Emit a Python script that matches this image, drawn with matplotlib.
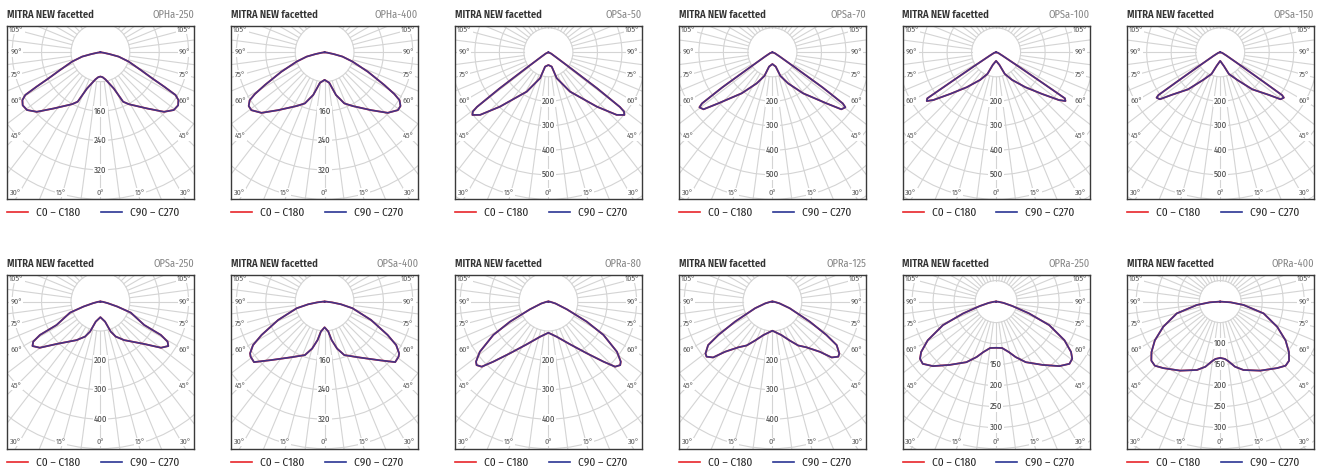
import matplotlib
matplotlib.use('Agg')
import numpy as np
import matplotlib.pyplot as plt
from matplotlib.patches import Circle
from matplotlib.lines import Line2D

plt.rcParams['font.family'] = ['Fira Sans Condensed', 'DejaVu Sans']

# ---------------- data (cd/klm vs gamma in degrees; C0-C180 and C90-C270 coincide) ----
product = "MITRA NEW facetted"
models = ["OPHa-250", "OPHa-400", "OPSa-50", "OPSa-70", "OPSa-100", "OPSa-150",
          "OPSa-250", "OPSa-400", "OPRa-80", "OPRa-125", "OPRa-250", "OPRa-400"]
ring_step = [80, 80, 100, 100, 100, 100, 100, 80, 100, 100, 50, 50]
ring_count = [5, 5, 6, 6, 6, 6, 5, 5, 5, 5, 7, 7]
ring_labels = [[160, 240, 320], [160, 240, 320], [200, 300, 400, 500], [200, 300, 400, 500],
               [200, 300, 400, 500], [200, 300, 400, 500], [200, 300, 400], [160, 240, 320],
               [200, 300, 400], [200, 300, 400], [150, 200, 250, 300], [100, 150, 200, 250, 300]]

gamma_opha250 = [0, 5, 10.5, 20.3, 24.7, 28.7, 39.8, 46.9, 51.8, 55.7, 58.5, 60.4, 61.7, 63.3, 66.3, 71.8, 76.7, 79, 82, 90]
cd_opha250 = [66, 68, 75, 105, 148, 161, 199, 237, 254, 256, 249, 235, 197, 158, 120, 81, 51, 25, 8, 0]

gamma_opha400 = [0, 8.7, 14.9, 21.1, 27.6, 38.8, 46.2, 51.7, 54.7, 57.4, 59.1, 61.3, 65.8, 71.6, 76.5, 79, 82, 90]
cd_opha400 = [75, 84, 120, 149, 165, 202, 238, 254, 253, 242, 221, 185, 129, 80, 50, 25, 8, 0]

gamma_opsa50 = [0, 13, 17.8, 28.8, 41.7, 47.5, 50.5, 51.9, 52.6, 53.5, 54.5, 57, 65, 90]
cd_opsa50 = [52, 60, 111, 183, 297, 378, 402, 392, 367, 248, 110, 40, 12, 0]

gamma_opsa70 = [0, 13.1, 18.7, 26.8, 36.8, 46.6, 50.4, 53, 54, 55, 56, 60, 70, 90]
cd_opsa70 = [48, 60, 102, 142, 209, 303, 365, 373, 355, 250, 120, 35, 10, 0]

gamma_opsa100 = [0, 14.7, 21.8, 30, 40, 47.8, 52.7, 54.9, 56.2, 56.6, 57.7, 62, 75, 90]
cd_opsa100 = [35, 53, 95, 130, 186, 253, 321, 346, 338, 226, 110, 30, 8, 0]

gamma_opsa150 = [0, 15, 21.8, 31.6, 40.9, 48.8, 52.1, 54.5, 55.3, 55.8, 57, 62, 75, 90]
cd_opsa150 = [35, 58, 95, 132, 200, 264, 312, 319, 307, 209, 107, 30, 8, 0]

gamma_opsa250 = [0, 13.1, 19, 23.7, 31.7, 45.9, 52.7, 56.8, 59.2, 61.1, 61.9, 70, 73.6, 78, 85, 90]
cd_opsa250 = [53, 70, 108, 130, 154, 207, 259, 276, 266, 235, 169, 110, 60, 25, 8, 0]

gamma_opsa400 = [0, 7, 10.3, 14.8, 20.2, 30.7, 42.3, 49.4, 53.3, 55.2, 58.7, 62.1, 68.4, 76.6, 80.7, 84, 88, 90]
cd_opsa400 = [70, 82, 106, 132, 155, 176, 215, 253, 251, 247, 228, 194, 136, 78, 45, 20, 5, 0]

gamma_opra80 = [0, 13.4, 26.9, 36.6, 42.5, 45.7, 48.5, 50.3, 53.8, 58.8, 62.4, 67.3, 75, 85, 90]
cd_opra80 = [106, 123, 163, 219, 277, 317, 326, 320, 289, 219, 147, 68, 25, 6, 0]

gamma_opra125 = [0, 15.1, 24, 30.4, 36.7, 43.4, 46.7, 50.1, 52.2, 55.9, 58.3, 61.8, 69, 76, 85, 90]
cd_opra125 = [99, 118, 145, 173, 194, 235, 277, 292, 288, 264, 216, 144, 63, 25, 6, 0]

gamma_opra250 = [0, 7.4, 14.2, 19.4, 26.1, 36.3, 44.4, 49.7, 53.1, 56.1, 60.5, 66.1, 70.3, 74.8, 80, 86, 90]
cd_opra250 = [110, 111.5, 124, 140, 160.6, 187, 215, 229, 226.6, 215, 187, 138.5, 83, 40, 18, 5, 0]

gamma_opra400 = [0, 4.7, 7.7, 12.8, 18.8, 30.1, 40.6, 45.6, 49.4, 53.7, 59.3, 66.1, 74.8, 81.8, 86, 90]
cd_opra400 = [134, 137, 143, 159, 172, 190, 208.5, 218, 216, 203, 181, 148.5, 107, 56, 25, 0]

gammas = [gamma_opha250, gamma_opha400, gamma_opsa50, gamma_opsa70, gamma_opsa100, gamma_opsa150,
          gamma_opsa250, gamma_opsa400, gamma_opra80, gamma_opra125, gamma_opra250, gamma_opra400]
cds = [cd_opha250, cd_opha400, cd_opsa50, cd_opsa70, cd_opsa100, cd_opsa150,
       cd_opsa250, cd_opsa400, cd_opra80, cd_opra125, cd_opra250, cd_opra400]

series_labels = ["C0 – C180", "C90 – C270"]
side_angles = [105, 90, 75, 60, 45]
bottom_angles = [30, 15, 0, 15, 30]

# ---------------- layout (pixels) ----------------
W, H = 1327, 474
fig = plt.figure(figsize=(W / 100, H / 100), dpi=100)

box_w = 187.2
above = 26.6       # px from centre to box top
below = 147.0      # px from centre to box bottom
col_left = [6.8, 231.0, 454.8, 678.8, 902.5, 1126.6]
row_top = [25.7, 275.0]

RED = '#e8252a'
BLUE = '#2a3593'
GRID = '#d4d4d4'
FS = 7.5
LFS = 8.2

for i in range(12):
    r, c = divmod(i, 6)
    left = col_left[c]
    top = row_top[r]
    h = above + below
    ax = fig.add_axes([left / W, 1 - (top + h) / H, box_w / W, h / H])
    R = ring_step[i] * ring_count[i]
    u = R / below            # data units per pixel
    half = box_w / 2 * u
    ax.set_xlim(-half, half)
    ax.set_ylim(-R, above * u)
    ax.set_xticks([])
    ax.set_yticks([])
    for s in ax.spines.values():
        s.set_color('#3a3a3a')
        s.set_linewidth(1.0)

    step = ring_step[i]
    for k in range(1, ring_count[i] + 4):
        ax.add_patch(Circle((0, 0), k * step, fill=False, ec=GRID, lw=0.8, zorder=1))
    for a in np.arange(0, 360, 7.5):
        t = np.radians(a)
        ax.plot([step * np.sin(t), 3 * R * np.sin(t)], [-step * np.cos(t), -3 * R * np.cos(t)],
                color=GRID, lw=0.8, zorder=1)

    g = np.radians(np.array(gammas[i], dtype=float))
    I = np.array(cds[i], dtype=float)
    xs = np.concatenate([-(I * np.sin(g))[::-1], (I * np.sin(g))[1:]])
    ys = np.concatenate([-(I * np.cos(g))[::-1], -(I * np.cos(g))[1:]])
    ax.plot(xs, ys, color=RED, lw=1.3, zorder=3, solid_joinstyle='round')
    ax.plot(xs, ys, color=BLUE, lw=1.2, alpha=0.87, zorder=4, solid_joinstyle='round')

    for v in ring_labels[i]:
        ax.text(0, -v, str(v), ha='center', va='center', fontsize=6.3, color='#444444', zorder=2,
                bbox=dict(boxstyle='square,pad=0.12', fc='white', ec='none'))
    xoff = (box_w / 2 - 9.5) * u
    for a in side_angles:
        y = -xoff / np.tan(np.radians(a)) if a != 90 else 0.0
        for sgn in (-1, 1):
            ax.text(sgn * xoff, y, f"{a}°", ha='center', va='center', fontsize=5.8,
                    color='#555555', zorder=2,
                    bbox=dict(boxstyle='square,pad=0.1', fc='white', ec='none'))
    yb = -(below - 6.6) * u
    for j, a in enumerate(bottom_angles):
        sgn = -1 if j < 2 else 1
        x = sgn * below * u * np.tan(np.radians(a))
        ax.text(x, yb, f"{a}°", ha='center', va='center', fontsize=5.8, color='#555555', zorder=2,
                bbox=dict(boxstyle='square,pad=0.1', fc='white', ec='none'))

    ax.text(0, 1 + 8.0 / h, product, transform=ax.transAxes, ha='left', va='baseline',
            fontsize=FS, fontweight=600, color='#333333')
    ax.text(1, 1 + 8.0 / h, models[i], transform=ax.transAxes, ha='right', va='baseline',
            fontsize=FS, fontweight=400, color='#858585')

    handles = [Line2D([], [], color=RED, lw=1.2), Line2D([], [], color=BLUE, lw=1.2)]
    ax.legend(handles, series_labels, loc='upper left', bbox_to_anchor=(0, -0.05),
              ncol=2, frameon=False, fontsize=LFS, handlelength=1.85, handletextpad=0.7,
              columnspacing=1.8, borderpad=0, borderaxespad=0, labelcolor='#222222')

fig.savefig('out.png', dpi=100, facecolor='white')
